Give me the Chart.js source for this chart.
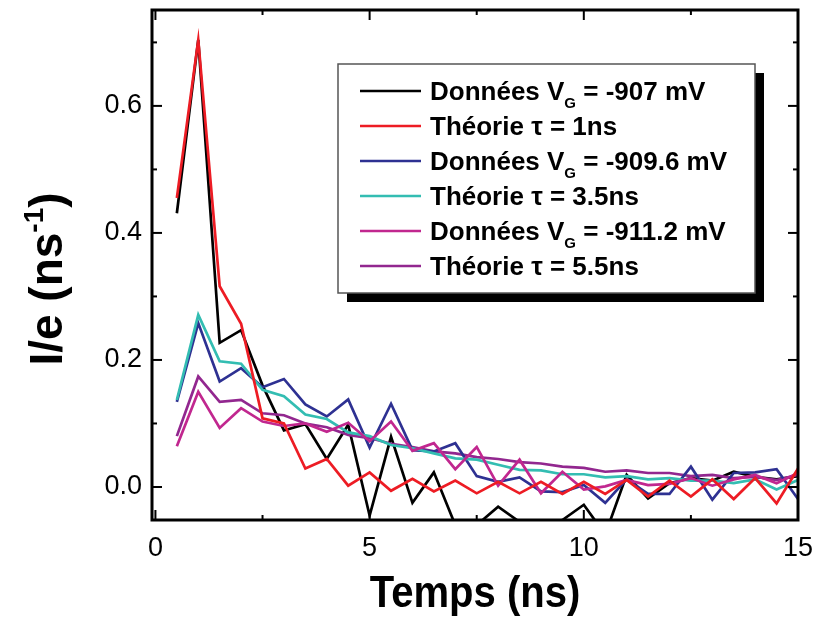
<!doctype html>
<html lang="fr">
<head>
<meta charset="utf-8">
<style>
  html, body { margin: 0; padding: 0; background: #fff; }
</style>
</head>
<body>
<canvas id="myChart" width="815" height="621"></canvas>

<script src="https://cdn.jsdelivr.net/npm/chart.js"></script>
<script>
// time axis (ns), one point every 0.5 ns
const temps = [0.5, 1, 1.5, 2, 2.5, 3, 3.5, 4, 4.5, 5, 5.5, 6, 6.5, 7, 7.5,
               8, 8.5, 9, 9.5, 10, 10.5, 11, 11.5, 12, 12.5, 13, 13.5, 14, 14.5, 15];

const donnees907 = [0.431, 0.704, 0.227, 0.247, 0.160, 0.089, 0.099, 0.044, 0.098, -0.045,
                    0.079, -0.025, 0.023, -0.060, -0.060, -0.031, -0.055, -0.070, -0.052, -0.028,
                    -0.075, 0.019, -0.018, 0.006, 0.014, 0.010, 0.024, 0.016, 0.012, 0.017];
const theorie1 = [0.455, 0.704, 0.316, 0.257, 0.108, 0.100, 0.029, 0.044, 0.002, 0.023,
                  -0.006, 0.013, -0.007, 0.010, -0.010, 0.008, -0.010, 0.008, -0.011, 0.008,
                  -0.011, 0.011, -0.015, 0.010, -0.015, 0.012, -0.019, 0.014, -0.026, 0.029];
const donnees9096 = [0.134, 0.258, 0.166, 0.187, 0.157, 0.170, 0.130, 0.111, 0.138, 0.062,
                     0.131, 0.058, 0.056, 0.069, 0.017, 0.008, 0.015, -0.007, -0.008, 0.003,
                     -0.025, 0.012, -0.011, -0.011, 0.032, -0.020, 0.022, 0.023, 0.028, -0.019];
const theorie35 = [0.137, 0.271, 0.198, 0.194, 0.153, 0.143, 0.114, 0.107, 0.086, 0.080,
                   0.066, 0.061, 0.053, 0.045, 0.043, 0.035, 0.027, 0.026, 0.020, 0.020,
                   0.015, 0.017, 0.012, 0.014, 0.010, 0.010, 0.006, 0.012, -0.004, 0.011];
const donnees9112 = [0.064, 0.150, 0.093, 0.124, 0.103, 0.096, 0.100, 0.087, 0.101, 0.072,
                     0.103, 0.057, 0.069, 0.028, 0.063, 0.002, 0.043, -0.010, 0.024, -0.004,
                     0.001, 0.011, 0.003, 0.005, 0.014, 0.002, 0.012, 0.019, 0.006, 0.022];
const theorie55 = [0.080, 0.174, 0.134, 0.137, 0.116, 0.113, 0.100, 0.094, 0.082, 0.077,
                   0.068, 0.063, 0.056, 0.053, 0.047, 0.044, 0.039, 0.037, 0.032, 0.030,
                   0.024, 0.026, 0.022, 0.022, 0.017, 0.019, 0.014, 0.016, 0.011, 0.019];

// legend text, "_X" means subscript X
const legendLabels = ['Données V_G = -907 mV', 'Théorie τ = 1ns', 'Données V_G = -909.6 mV',
                      'Théorie τ = 3.5ns', 'Données V_G = -911.2 mV', 'Théorie τ = 5.5ns'];
const seriesColors = ['#000000', '#ed1c24', '#2e3192', '#33bdb2', '#c1278f', '#92278f'];

const xTicks = [0, 5, 10, 15];
const xMinor = [2.5, 7.5, 12.5];
const yTicks = [0, 0.2, 0.4, 0.6];
const yMinor = [0.1, 0.3, 0.5, 0.7];

const FONT = '"Liberation Sans", Arial, sans-serif';

// draws text with subscripts/superscripts, parts = [{t, size, dy}]
function richWidth(ctx, parts) {
    let w = 0;
    parts.forEach(p => { ctx.font = 'bold ' + p.size + 'px ' + FONT; w += ctx.measureText(p.t).width; });
    return w;
}
function drawRich(ctx, parts, x, y) {
    parts.forEach(p => {
        ctx.font = 'bold ' + p.size + 'px ' + FONT;
        ctx.fillText(p.t, x, y + (p.dy || 0));
        x += ctx.measureText(p.t).width;
    });
}
function legendParts(label) {
    const m = label.split('_');
    if (m.length === 1) return [{t: label, size: 26}];
    return [{t: m[0], size: 26}, {t: m[1][0], size: 15, dy: 8}, {t: m[1].slice(1), size: 26}];
}

// frame, inward ticks, axis titles and the boxed legend
const decorations = {
    id: 'decorations',
    afterDatasetsDraw(chart) {
        const {ctx, chartArea: a, scales: {x, y}} = chart;
        ctx.save();
        ctx.strokeStyle = '#000';
        ctx.lineWidth = 3;
        ctx.strokeRect(a.left, a.top, a.right - a.left, a.bottom - a.top);
        ctx.lineWidth = 2;
        const seg = (x1, y1, x2, y2) => { ctx.beginPath(); ctx.moveTo(x1, y1); ctx.lineTo(x2, y2); ctx.stroke(); };
        xTicks.forEach(v => { const p = x.getPixelForValue(v); seg(p, a.bottom, p, a.bottom - 10); seg(p, a.top, p, a.top + 10); });
        xMinor.forEach(v => { const p = x.getPixelForValue(v); seg(p, a.bottom, p, a.bottom - 5); seg(p, a.top, p, a.top + 5); });
        yTicks.forEach(v => { const p = y.getPixelForValue(v); seg(a.left, p, a.left + 10, p); seg(a.right, p, a.right - 10, p); });
        yMinor.forEach(v => { const p = y.getPixelForValue(v); seg(a.left, p, a.left + 5, p); seg(a.right, p, a.right - 5, p); });
        ctx.restore();
    },
    afterDraw(chart) {
        const {ctx, chartArea: a} = chart;
        ctx.save();
        ctx.fillStyle = '#000';
        ctx.textBaseline = 'alphabetic';

        // x title
        const xt = [{t: 'Temps (ns)', size: 44}];
        ctx.save();
        ctx.translate((a.left + a.right) / 2, 607);
        ctx.scale(0.91, 1);
        drawRich(ctx, xt, -richWidth(ctx, xt) / 2, 0);
        ctx.restore();

        // y title with superscript
        const yt = [{t: 'I/e (ns', size: 46}, {t: '-1', size: 28, dy: -19}, {t: ')', size: 46}];
        ctx.save();
        ctx.translate(62, 279);
        ctx.rotate(-Math.PI / 2);
        drawRich(ctx, yt, -richWidth(ctx, yt) / 2, 0);
        ctx.restore();

        // legend box with drop shadow
        const bx = 338, by = 64, bw = 417, bh = 229;
        ctx.fillStyle = '#000';
        ctx.fillRect(bx + 9, by + 9, bw, bh);
        ctx.fillStyle = '#fff';
        ctx.fillRect(bx, by, bw, bh);
        ctx.strokeStyle = '#555';
        ctx.lineWidth = 1.5;
        ctx.strokeRect(bx, by, bw, bh);
        legendLabels.forEach((lab, i) => {
            const ly = 91 + i * 35;
            ctx.strokeStyle = seriesColors[i];
            ctx.lineWidth = 2.5;
            ctx.beginPath(); ctx.moveTo(360, ly); ctx.lineTo(421, ly); ctx.stroke();
            ctx.fillStyle = '#000';
            drawRich(ctx, legendParts(lab), 430, ly + 9);
        });
        ctx.restore();
    }
};

const allSeries = [donnees907, theorie1, donnees9096, theorie35, donnees9112, theorie55];
// draw order: red over black, magenta over purple
const drawOrder = [5, 0, 3, 2, 1, 4];

new Chart(document.getElementById('myChart'), {
    type: 'line',
    data: {
        datasets: allSeries.map((s, i) => ({
            label: legendLabels[i],
            data: s.map((v, k) => ({x: temps[k], y: v})),
            borderColor: seriesColors[i],
            borderWidth: 2.7,
            pointRadius: 0,
            tension: 0,
            order: drawOrder[i]
        }))
    },
    options: {
        responsive: false,
        animation: false,
        devicePixelRatio: 1,
        layout: {padding: {left: 0, right: 17, top: 10, bottom: 0}},
        plugins: {legend: {display: false}, tooltip: {enabled: false}},
        scales: {
            x: {
                type: 'linear',
                min: -0.08,
                max: 15,
                afterBuildTicks: s => { s.ticks = xTicks.map(v => ({value: v})); },
                afterFit: s => { s.height = 101; s.paddingLeft = 0; s.paddingRight = 0; },
                grid: {display: false, drawTicks: false},
                border: {display: false},
                ticks: {color: '#000', font: {family: FONT, size: 27}, padding: 12, maxRotation: 0}
            },
            y: {
                min: -0.052,
                max: 0.751,
                afterBuildTicks: s => { s.ticks = yTicks.map(v => ({value: v})); },
                afterFit: s => { s.width = 152; s.paddingTop = 0; s.paddingBottom = 0; },
                grid: {display: false, drawTicks: false},
                border: {display: false},
                ticks: {color: '#000', font: {family: FONT, size: 27}, padding: 10,
                        callback: v => v.toFixed(1)}
            }
        }
    },
    plugins: [decorations]
});
</script>
</body>
</html>
